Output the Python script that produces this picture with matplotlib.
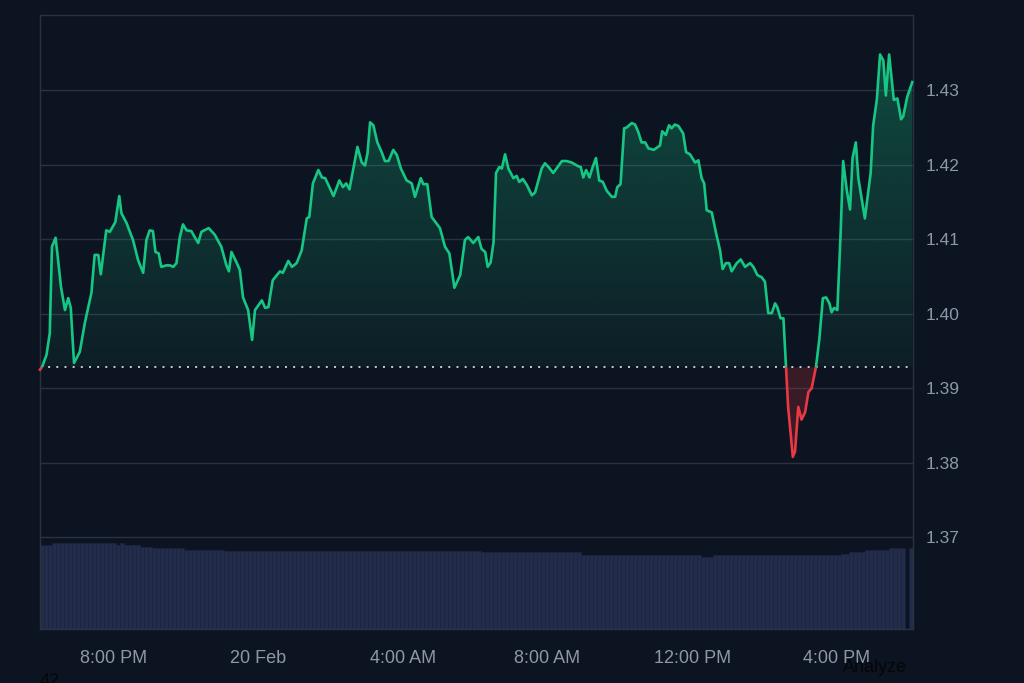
import matplotlib.pyplot as plt
import numpy as np
from matplotlib.patches import PathPatch, Rectangle

# price series (hours since midnight of 19 Feb, price in USD)
hours = [17.98, 18.04, 18.16, 18.25, 18.31, 18.41, 18.46, 18.56, 18.67, 18.76,
         18.83, 18.92, 19.08, 19.22, 19.40, 19.49, 19.59, 19.66, 19.81, 19.91,
         20.06, 20.17, 20.23, 20.37, 20.55, 20.69, 20.83, 20.92, 21.01, 21.10,
         21.17, 21.26, 21.33, 21.47, 21.57, 21.66, 21.75, 21.84, 21.93, 22.03,
         22.16, 22.35, 22.44, 22.64, 22.81, 22.99, 23.13, 23.20, 23.27, 23.41,
         23.50, 23.59, 23.73, 23.84, 23.92, 24.11, 24.20, 24.29, 24.41, 24.61,
         24.69, 24.84, 24.94, 25.07, 25.21, 25.35, 25.42, 25.52, 25.67, 25.77,
         25.86, 26.09, 26.25, 26.35, 26.44, 26.53, 26.75, 26.87, 26.96, 27.03,
         27.10, 27.19, 27.30, 27.42, 27.51, 27.61, 27.74, 27.84, 27.95, 28.11,
         28.25, 28.34, 28.50, 28.57, 28.68, 28.80, 29.03, 29.17, 29.29, 29.43,
         29.59, 29.72, 29.81, 29.95, 30.09, 30.18, 30.28, 30.35, 30.43, 30.51,
         30.58, 30.67, 30.74, 30.83, 30.92, 31.06, 31.15, 31.22, 31.32, 31.43,
         31.57, 31.66, 31.84, 31.93, 32.03, 32.16, 32.40, 32.53, 32.67, 32.85,
         32.92, 32.99, 33.07, 33.16, 33.25, 33.34, 33.43, 33.53, 33.64, 33.78,
         33.87, 33.93, 34.02, 34.12, 34.19, 34.33, 34.42, 34.51, 34.60, 34.70,
         34.79, 34.94, 35.11, 35.17, 35.27, 35.36, 35.43, 35.52, 35.62, 35.75,
         35.83, 35.94, 36.08, 36.17, 36.26, 36.33, 36.40, 36.54, 36.66, 36.77,
         36.84, 36.93, 37.02, 37.09, 37.23, 37.34, 37.46, 37.60, 37.69, 37.80,
         37.92, 38.01, 38.10, 38.20, 38.29, 38.35, 38.44, 38.52, 38.59, 38.65,
         38.78, 38.84, 38.93, 39.02, 39.12, 39.21, 39.30, 39.42, 39.51, 39.61,
         39.70, 39.79, 39.85, 39.92, 40.01, 40.10, 40.17, 40.27, 40.36, 40.43,
         40.52, 40.59, 40.77, 40.93, 41.00, 41.10, 41.19, 41.28, 41.35, 41.44,
         41.57, 41.67, 41.77, 41.83, 41.94, 42.08]
price = [1.3925, 1.3929, 1.3945, 1.3974, 1.4090, 1.4102, 1.4081, 1.4036, 1.4005, 1.4021,
         1.4008, 1.3934, 1.3949, 1.3988, 1.4028, 1.4079, 1.4079, 1.4053, 1.4112, 1.4110,
         1.4123, 1.4158, 1.4135, 1.4122, 1.4099, 1.4072, 1.4055, 1.4099, 1.4112, 1.4111,
         1.4083, 1.4081, 1.4063, 1.4065, 1.4065, 1.4063, 1.4068, 1.4102, 1.4120, 1.4112,
         1.4111, 1.4095, 1.4110, 1.4115, 1.4106, 1.4090, 1.4065, 1.4057, 1.4083, 1.4069,
         1.4059, 1.4022, 1.4005, 1.3965, 1.4005, 1.4018, 1.4008, 1.4009, 1.4045, 1.4057,
         1.4055, 1.4071, 1.4063, 1.4068, 1.4085, 1.4128, 1.4130, 1.4175, 1.4193, 1.4183,
         1.4182, 1.4158, 1.4179, 1.4170, 1.4175, 1.4167, 1.4224, 1.4203, 1.4199, 1.4216,
         1.4257, 1.4253, 1.4230, 1.4217, 1.4205, 1.4205, 1.4220, 1.4213, 1.4195, 1.4179,
         1.4175, 1.4157, 1.4182, 1.4174, 1.4174, 1.4130, 1.4115, 1.4090, 1.4081, 1.4035,
         1.4052, 1.4099, 1.4103, 1.4095, 1.4103, 1.4087, 1.4083, 1.4063, 1.4069, 1.4096,
         1.4189, 1.4197, 1.4195, 1.4214, 1.4195, 1.4182, 1.4185, 1.4177, 1.4181, 1.4173,
         1.4159, 1.4163, 1.4195, 1.4202, 1.4197, 1.4189, 1.4205, 1.4205, 1.4203, 1.4198,
         1.4197, 1.4183, 1.4193, 1.4183, 1.4197, 1.4209, 1.4179, 1.4177, 1.4165, 1.4157,
         1.4157, 1.4170, 1.4174, 1.4249, 1.4250, 1.4256, 1.4254, 1.4244, 1.4230, 1.4230,
         1.4222, 1.4220, 1.4226, 1.4245, 1.4240, 1.4253, 1.4249, 1.4254, 1.4252, 1.4242,
         1.4217, 1.4214, 1.4203, 1.4206, 1.4182, 1.4175, 1.4139, 1.4136, 1.4108, 1.4085,
         1.4060, 1.4068, 1.4068, 1.4057, 1.4068, 1.4073, 1.4063, 1.4068, 1.4063, 1.4052,
         1.4049, 1.4043, 1.4001, 1.4001, 1.4014, 1.4009, 1.3994, 1.3994, 1.3929, 1.3875,
         1.3808, 1.3815, 1.3875, 1.3858, 1.3868, 1.3895, 1.3900, 1.3929, 1.3965, 1.4021,
         1.4022, 1.4014, 1.4002, 1.4008, 1.4005, 1.4108, 1.4205, 1.4166, 1.4140, 1.4209,
         1.4230, 1.4182, 1.4128, 1.4189, 1.4253, 1.4287, 1.4348, 1.4340, 1.4293, 1.4348,
         1.4287, 1.4289, 1.4261, 1.4265, 1.4291, 1.4311]
open_price = 1.3928

# volume, read as step levels (arbitrary units) and how many bars each level lasts
vol_levels = [84, 86, 84, 86, 84, 82, 81, 79, 78, 77, 74, 72, 74, 75, 77, 79, 81, 0, 81]
vol_counts = [3, 16, 1, 1, 4, 3, 8, 10, 64, 25, 30, 3, 32, 2, 4, 6, 4, 1, 1]

tick_hours = [20, 24, 28, 32, 36, 40]
tick_names = ['8:00 PM', '20 Feb', '4:00 AM', '8:00 AM', '12:00 PM', '4:00 PM']
y_ticks = [1.37, 1.38, 1.39, 1.40, 1.41, 1.42, 1.43]

BG = '#0d1421'
GREEN = '#16c784'
RED = '#ea3943'
GRID = '#2a3141'
LABEL = '#8e97a8'

plt.rcParams['font.family'] = ['Liberation Sans', 'DejaVu Sans']

x = np.array(hours)
y = np.array(price)
x0, x1 = 17.98, 42.10
y0, y1 = 1.3577, 1.4401

fig = plt.figure(figsize=(10.24, 6.83), dpi=100, facecolor=BG)
pos = [40 / 1024, 54 / 683, 873 / 1024, 614 / 683]

# volume bars underneath
vax = fig.add_axes(pos, zorder=0)
vax.set_facecolor(BG)
vol = np.repeat(vol_levels, vol_counts)
bw = (x1 - x0) / len(vol)
vax.bar(x0 + np.arange(len(vol)) * bw, vol, width=bw, align='edge',
        color='#232d4b', edgecolor='#1c2540', linewidth=0.4)
vax.set_xlim(x0, x1)
vax.set_ylim(0, 614)
vax.axis('off')

ax = fig.add_axes(pos, zorder=1)
ax.patch.set_alpha(0)
ax.set_xlim(x0, x1)
ax.set_ylim(y0, y1)

# green gradient area above the open price
poly = ax.fill_between(x, np.maximum(y, open_price), open_price, color='none', lw=0)
clip = PathPatch(poly.get_paths()[0], transform=ax.transData, facecolor='none', edgecolor='none')
ax.add_patch(clip)
grad = np.zeros((256, 1, 4))
grad[..., 0] = 22 / 255
grad[..., 1] = 199 / 255
grad[..., 2] = 132 / 255
grad[:, 0, 3] = np.linspace(0.06, 0.34, 256)
im = ax.imshow(grad, extent=[x0, x1, open_price, y1], origin='lower', aspect='auto', zorder=1)
im.set_clip_path(clip)

# red area below the open price
ax.fill_between(x, y, open_price, where=y < open_price, interpolate=True,
                color=RED, alpha=0.2, lw=0, zorder=1)

# line, green above the open price and red below
up = Rectangle((x0 - 1, open_price), x1 - x0 + 2, 1, transform=ax.transData)
down = Rectangle((x0 - 1, open_price - 1), x1 - x0 + 2, 1, transform=ax.transData)
g, = ax.plot(x, y, color=GREEN, lw=1.9, zorder=3, solid_joinstyle='round')
g.set_clip_path(up)
r, = ax.plot(x, y, color=RED, lw=1.9, zorder=3, solid_joinstyle='round')
r.set_clip_path(down)

ax.axhline(open_price, color='#c9cdd6', lw=1.4, ls=(0, (1, 3.2)), zorder=2)

ax.set_yticks(y_ticks)
ax.set_yticklabels([f'{v:.2f}' for v in y_ticks])
ax.yaxis.tick_right()
ax.set_xticks(tick_hours)
ax.set_xticklabels(tick_names)
ax.tick_params(axis='y', length=0, pad=9, labelsize=12.5, labelcolor=LABEL)
ax.tick_params(axis='x', length=0, pad=15, labelsize=13, labelcolor=LABEL)
ax.grid(axis='y', color=GRID, lw=1)
ax.set_axisbelow(True)
for s in ax.spines.values():
    s.set_color(GRID)
    s.set_linewidth(1)

# stray dark texts at the bottom edge
fig.text(40 / 1024, 10 / 683, '42', color='#050608', fontsize=13, ha='left', va='top')
fig.text(843 / 1024, 15 / 683, 'Analyze', color='#050608', fontsize=13, ha='left', va='center')

fig.savefig('out.png', dpi=100, facecolor=BG)
